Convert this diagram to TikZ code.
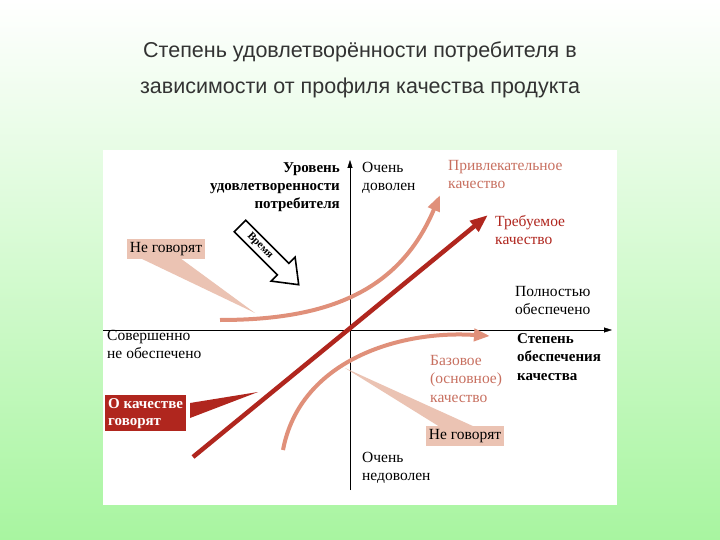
\documentclass[tikz,border=0pt]{standalone}
\usepackage{fontspec}
\setmainfont{Liberation Serif}
\newfontfamily\titlefont{Liberation Sans}
\usetikzlibrary{arrows.meta}
\definecolor{dred}{HTML}{B0261E}
\definecolor{pinkc}{HTML}{E0907A}
\definecolor{pinkt}{HTML}{C87060}
\definecolor{callbg}{HTML}{EBC3B3}
\definecolor{gbot}{HTML}{A8F5A0}
\begin{document}
\begin{tikzpicture}[x=1pt,y=-1pt,
  lbl/.style={font=\fontsize{15.5}{18}\selectfont,inner sep=0pt,align=left,anchor=north west},
  lblr/.style={lbl,align=right,anchor=north east,font=\fontsize{15}{18}\selectfont\bfseries},
  callout/.style={fill=callbg,font=\fontsize{15.5}{18}\selectfont,inner sep=3pt}]
\useasboundingbox (0,0) rectangle (720,540);
\shade[top color=white,bottom color=gbot] (0,0) rectangle (720,540);
\fill[white] (103,150) rectangle (617,505);
\node[font=\titlefont\fontsize{21.5}{36}\selectfont,text=black!80,align=center] (title) at (360,70) {Степень удовлетворённости потребителя в\\зависимости от профиля качества продукта};
% axes
\coordinate (xa) at (103,330); \coordinate (xb) at (612,330);
\coordinate (ya) at (350,490); \coordinate (yb) at (350,160);
\draw[-{Triangle[length=8pt,width=5pt]},thin] (xa) -- (xb);
\draw[-{Triangle[length=8pt,width=5pt]},thin] (ya) -- (yb);
% callout wedges
\node[callout] (nt) at (166,249) {Не говорят};
\coordinate (ntp) at (255,313);
\fill[callbg] (140,258) -- (ntp) -- (180,258) -- cycle;
\node[callout] (nb) at (465,436) {Не говорят};
\coordinate (nbp) at (345,368);
\fill[callbg] (440,427) -- (nbp) -- (475,427) -- cycle;
\node[fill=dred,text=white,font=\fontsize{15}{17}\selectfont\bfseries,align=left,inner sep=3pt,anchor=north west] (og) at (105,395) {О качестве\\говорят};
\coordinate (ogp) at (258,392);
\fill[dred] (190,403) -- (ogp) -- (190,418) -- cycle;
% curves
\coordinate (a0) at (220,320); \coordinate (a1) at (440,195);
\draw[pinkc,line width=4pt,-{Triangle[length=16pt,width=12pt]}] (a0) .. controls (330,320) and (400,290) .. (a1);
\coordinate (b0) at (283,450); \coordinate (b1) at (490,336);
\draw[pinkc,line width=4pt,-{Triangle[length=16pt,width=12pt]}] (b0) .. controls (300,360) and (400,330) .. (b1);
\coordinate (r0) at (193,457); \coordinate (r1) at (488,215);
\draw[dred,line width=4.5pt,-{Triangle[length=18pt,width=13pt]}] (r0) -- (r1);
% time arrow
\draw[line width=1.6pt,fill=white,line join=miter] (245.7,220.3) -- (288.8,263.4) -- (295.1,257.1) -- (298.7,284.7) -- (271.1,281.1) -- (277.4,274.8) -- (234.3,231.7) -- cycle;
\node[rotate=-45,font=\fontsize{11}{11}\selectfont\bfseries,inner sep=0pt] (timet) at (260,246) {Время};
% labels
\node[lblr] (ur) at (340,162) {Уровень\\удовлетворенности\\потребителя};
\node[lbl] (od) at (362,162) {Очень\\доволен};
\node[lbl,text=pinkt] (pk) at (448,160) {Привлекательное\\качество};
\node[lbl,text=dred] (tk) at (495,215) {Требуемое\\качество};
\node[lbl] (po) at (515,286) {Полностью\\обеспечено};
\node[lbl,font=\fontsize{15}{18.5}\selectfont\bfseries] (st) at (517,333) {Степень\\обеспечения\\качества};
\node[lbl,text=pinkt,font=\fontsize{15.5}{18.5}\selectfont] (bk) at (430,355) {Базовое\\(основное)\\качество};
\node[lbl] (sn) at (107,330) {Совершенно\\не обеспечено};
\node[lbl] (on) at (362,452) {Очень\\недоволен};
\end{tikzpicture}
\end{document}
